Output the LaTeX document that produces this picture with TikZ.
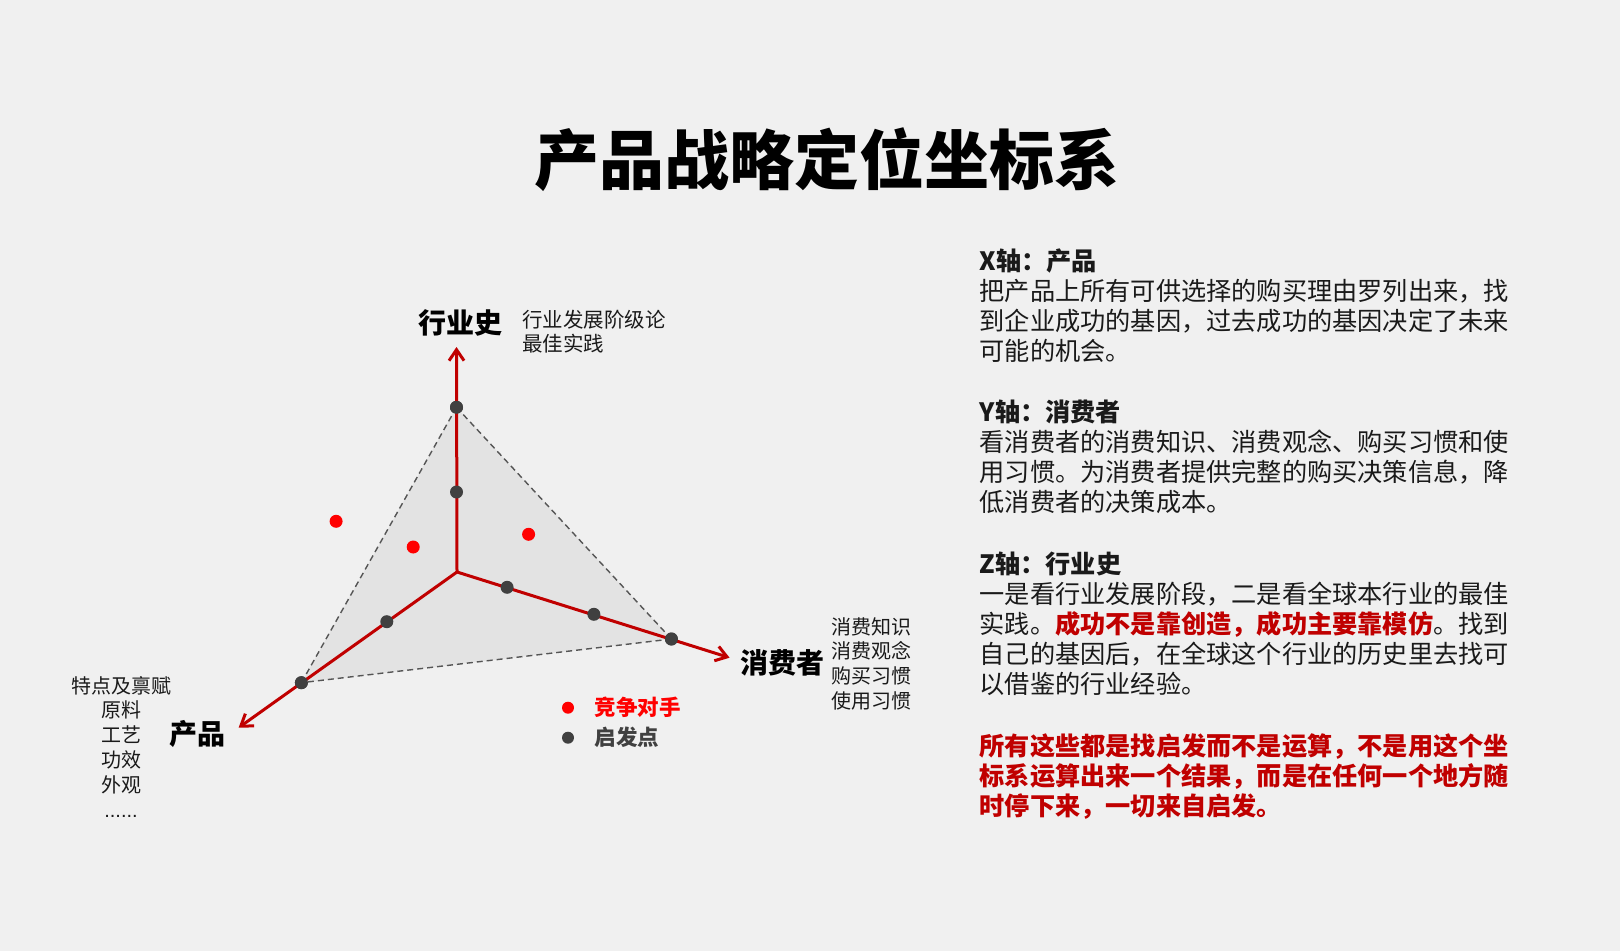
\documentclass[tikz,border=0pt]{standalone}
\usepackage{fontspec}
\setmainfont{Noto Sans CJK SC}
\newfontfamily\latinfont{Liberation Sans}
\usetikzlibrary{arrows.meta}

\definecolor{bgGray}{HTML}{F0F0F0}
\definecolor{faceGray}{HTML}{E3E3E3}
\definecolor{axisRed}{HTML}{C00000}
\definecolor{dotGray}{HTML}{404040}
\definecolor{rivalRed}{HTML}{FF0000}
\definecolor{edgeGray}{HTML}{555555}
\definecolor{txtBlack}{HTML}{1A1A1A}

\tikzset{
  axis/.style={axisRed, line width=3pt, -{Straight Barb[length=11pt,width=15pt]}},
  edgeline/.style={edgeGray, line width=1.4pt, dash pattern=on 6pt off 4pt},
  hint/.style={circle, fill=dotGray, inner sep=0pt, minimum size=13pt},
  rival/.style={circle, fill=rivalRed, inner sep=0pt, minimum size=13pt},
  axlabel/.style={font=\fontsize{28}{32}\selectfont\bfseries, text=black, inner sep=0pt},
  sublist/.style={font=\fontsize{20}{24.8}\selectfont, text=txtBlack, inner sep=0pt},
  para/.style={font=\fontsize{25.2}{30}\selectfont, text=txtBlack, align=left, anchor=north west, inner sep=0pt},
}

\begin{document}
\begin{tikzpicture}[x=1pt, y=-1pt]
    % 背景
    \fill[bgGray] (0,0) rectangle (1620,951);
    \useasboundingbox (0,0) rectangle (1620,951);

    % 标题
    \node[font=\fontsize{65}{72}\selectfont\bfseries, inner sep=0pt] (title) at (826.6,160) {产品战略定位坐标系};

    % 坐标原点与箭头端点
    \coordinate (O) at (457,572);
    \coordinate (zTip) at (456.5,347);
    \coordinate (yTip) at (729.6,657.7);
    \coordinate (xTip) at (238.6,727.7);

    % 启发点
    \node[hint] (zTop) at (456.5,407.3) {};
    \node[hint] (zMid) at (456.5,492) {};
    \node[hint] (yOne) at (507.1,587.3) {};
    \node[hint] (yTwo) at (593.9,614.3) {};
    \node[hint] (yEnd) at (671.4,639) {};
    \node[hint] (xOne) at (386.8,621.7) {};
    \node[hint] (xEnd) at (301.4,682.7) {};

    % 三角平面
    \fill[faceGray] (zTop.center) -- (yEnd.center) -- (xEnd.center) -- cycle;
    \draw[edgeline] (zTop.center) -- (yEnd.center);
    \draw[edgeline] (yEnd.center) -- (xEnd.center);
    \draw[edgeline] (xEnd.center) -- (zTop.center);

    % 三条轴
    \draw[axis] (O) -- (zTip);
    \draw[axis] (O) -- (yTip);
    \draw[axis] (O) -- (xTip);

    % 点画在轴上面
    \foreach \p in {zTop,zMid,yOne,yTwo,yEnd,xOne,xEnd} {
        \fill[dotGray] (\p) circle (6.5pt);
    }

    % 竞争对手
    \node[rival] (rOne) at (336.1,521.3) {};
    \node[rival] (rTwo) at (413.2,547) {};
    \node[rival] (rThree) at (528.6,534.3) {};

    % 轴标注
    \node[axlabel] (zLab) at (460.8,323) {行业史};
    \node[axlabel] (yLab) at (782,663) {消费者};
    \node[axlabel] (xLab) at (197.8,733.6) {产品};

    \node[sublist, font=\fontsize{20.5}{24.8}\selectfont, align=left, anchor=north west] (zList) at (521.8,309.5) {行业发展阶级论\\最佳实践};
    \node[sublist, align=left, anchor=north west] (yList) at (831.7,617) {消费知识\\消费观念\\购买习惯\\使用习惯};
    \node[sublist, align=center, anchor=north] (xList) at (121,676) {特点及禀赋\\原料\\工艺\\功效\\外观\\{\latinfont ......}};

    % 图例
    \node[rival, minimum size=12pt] (legR) at (568,707.7) {};
    \node[font=\fontsize{21.5}{24}\selectfont\bfseries, text=rivalRed, anchor=west, inner sep=0pt] (legRText) at (594.6,707.7) {竞争对手};
    \node[hint, minimum size=12pt] (legH) at (568,737.7) {};
    \node[font=\fontsize{21.5}{24}\selectfont\bfseries, text=dotGray, anchor=west, inner sep=0pt] (legHText) at (594.6,737.7) {启发点};

    % 右侧说明
    \node[para] (xPara) at (979.5,249) {{\bfseries X轴：产品}\\
把产品上所有可供选择的购买理由罗列出来，找\\
到企业成功的基因，过去成功的基因决定了未来\\
可能的机会。};
    \node[para] (yPara) at (979.5,400) {{\bfseries Y轴：消费者}\\
看消费者的消费知识、消费观念、购买习惯和使\\
用习惯。为消费者提供完整的购买决策信息，降\\
低消费者的决策成本。};
    \node[para] (zPara) at (979.5,552) {{\bfseries Z轴：行业史}\\
一是看行业发展阶段，二是看全球本行业的最佳\\
实践。{\bfseries\color{axisRed}成功不是靠创造，成功主要靠模仿}。找到\\
自己的基因后，在全球这个行业的历史里去找可\\
以借鉴的行业经验。};
    \node[para, text=axisRed, font=\fontsize{25.2}{30}\selectfont\bfseries] (sumPara) at (979.5,733) {所有这些都是找启发而不是运算，不是用这个坐\\
标系运算出来一个结果，而是在任何一个地方随\\
时停下来，一切来自启发。};
\end{tikzpicture}
\end{document}
